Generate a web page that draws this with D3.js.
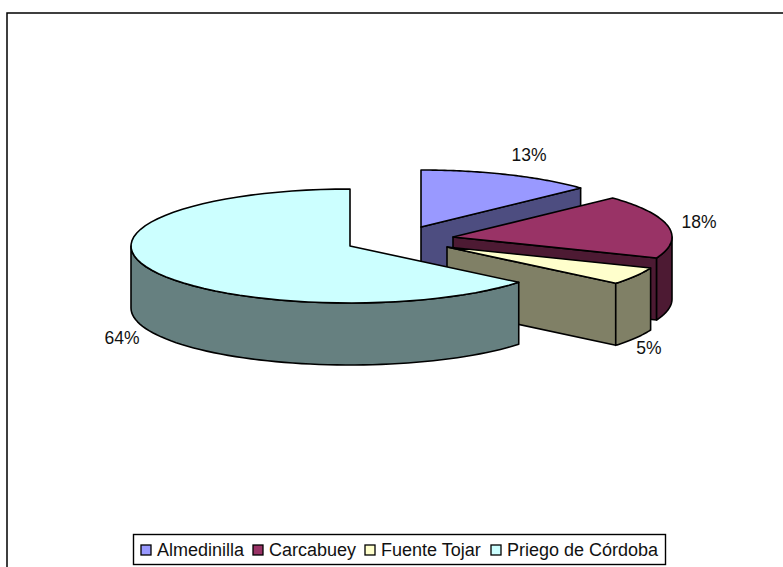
<!DOCTYPE html>
<html>
<head>
<meta charset="utf-8">
<script src="https://cdn.jsdelivr.net/npm/d3@7"></script>
<style>
  html, body { margin: 0; padding: 0; background: #fff; overflow: hidden; }
  text { font-family: "Liberation Sans", Arial, sans-serif; fill: #111; }
</style>
</head>
<body>
<div id="chart"></div>
<script>
const municipalities = ['Almedinilla', 'Carcabuey', 'Fuente Tojar', 'Priego de Córdoba'];
const shares = [13, 18, 5, 64];
const topColors = ['#9999ff', '#993366', '#ffffcc', '#ccffff'];
const wallColors = ['#4d4d80', '#4d1a33', '#808066', '#668080'];

// how far each slice is pulled out of the pie, and where its label sits
const explode = [[71, -19], [103, -9], [97, 1], [0, 0]];
const labelPos = [[529, 155], [699, 222], [649, 348], [122, 338]];

const width = 783, height = 567;
const cx = 350, cy = 246, rx = 219, ry = 57, depth = 62;

const svg = d3.select('#chart').append('svg')
  .attr('width', width)
  .attr('height', height)
  .style('display', 'block');

// chart frame: only top and left edges fall inside the picture
svg.append('path')
  .attr('d', d3.line()([[7, height], [7, 13], [width, 13]]))
  .attr('fill', 'none')
  .attr('stroke', '#000')
  .attr('stroke-width', 1.5);

const pie = d3.pie().sort(null);
const slices = pie(shares);

// elliptical projection, angle runs clockwise from 12 o'clock
const px = a => rx * Math.sin(a);
const py = a => -ry * Math.cos(a);
const sample = (a0, a1) => d3.range(0, 61).map(i => a0 + (a1 - a0) * i / 60);
const line = d3.line();

function outerArc(a0, a1) {
  return sample(a0, a1).map(a => [px(a), py(a)]);
}

const plot = svg.append('g').attr('class', 'plot');

// painter's order: back slice first, Priego last
slices.forEach((d, i) => {
  const g = plot.append('g')
    .attr('transform', `translate(${cx + explode[i][0]},${cy + explode[i][1]})`);

  const face = pts => g.append('path')
    .attr('d', line(pts) + 'Z')
    .attr('fill', wallColors[i])
    .attr('stroke', '#000')
    .attr('stroke-width', 1.6)
    .attr('stroke-linejoin', 'round');

  // cut faces, only the ones turned toward the viewer
  if (Math.sin(d.endAngle) > 0.001) {
    const a = d.endAngle;
    face([[0, 0], [px(a), py(a)], [px(a), py(a) + depth], [0, depth]]);
  }
  if (Math.sin(d.startAngle) < -0.001) {
    const a = d.startAngle;
    face([[0, 0], [px(a), py(a)], [px(a), py(a) + depth], [0, depth]]);
  }

  // outer wall, the part on the front half of the ellipse
  const a0 = Math.max(d.startAngle, Math.PI / 2);
  const a1 = Math.min(d.endAngle, Math.PI * 1.5);
  if (a1 > a0) {
    const upper = outerArc(a0, a1);
    const lower = upper.slice().reverse().map(p => [p[0], p[1] + depth]);
    face(upper.concat(lower));
  }

  // top
  g.append('path')
    .attr('d', line([[0, 0]].concat(outerArc(d.startAngle, d.endAngle))) + 'Z')
    .attr('fill', topColors[i])
    .attr('stroke', '#000')
    .attr('stroke-width', 1.6)
    .attr('stroke-linejoin', 'round');
});

// percentage labels
svg.append('g').selectAll('text')
  .data(shares)
  .join('text')
  .attr('x', (d, i) => labelPos[i][0])
  .attr('y', (d, i) => labelPos[i][1])
  .attr('dy', '0.35em')
  .attr('text-anchor', 'middle')
  .attr('font-size', 17.5)
  .text(d => `${d}%`);

// legend
const legend = svg.append('g').attr('class', 'legend');
legend.append('rect')
  .attr('x', 133.5)
  .attr('y', 534.5)
  .attr('width', 532)
  .attr('height', 30)
  .attr('fill', '#fff')
  .attr('stroke', '#000')
  .attr('stroke-width', 1.4);

const legendX = [141, 253, 365, 491];
municipalities.forEach((name, i) => {
  legend.append('rect')
    .attr('x', legendX[i])
    .attr('y', 545)
    .attr('width', 10)
    .attr('height', 10)
    .attr('fill', topColors[i])
    .attr('stroke', '#000')
    .attr('stroke-width', 1.3);
  legend.append('text')
    .attr('x', legendX[i] + 16)
    .attr('y', 550)
    .attr('dy', '0.35em')
    .attr('font-size', 18)
    .text(name);
});
</script>
</body>
</html>
